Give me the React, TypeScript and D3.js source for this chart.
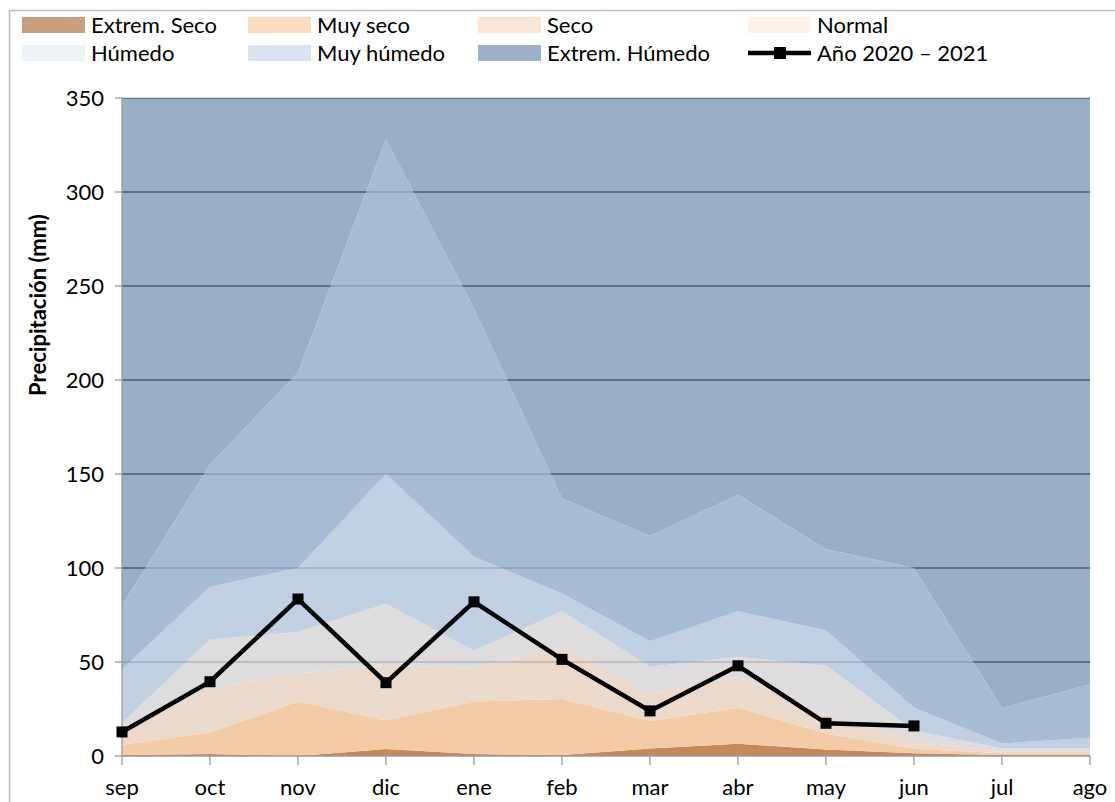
import React from "react";
import * as d3 from "d3";

const width = 1115;
const height = 802;

const months = ["sep", "oct", "nov", "dic", "ene", "feb", "mar", "abr", "may", "jun", "jul", "ago"];

// upper limit of each class (mm)
const extremSeco = [0.5, 1, 0, 3.7, 1, 0.5, 4, 6.5, 3.5, 1.4, 0.5, 0.5];
const muySeco = [6, 12.5, 29, 19, 29, 30.3, 18.6, 25.7, 12, 3.9, 1.5, 1.5];
const seco = [13, 36, 44, 48, 47, 58, 33, 42, 22, 8, 2.3, 2.5];
const normal = [17.5, 62, 66, 81, 56, 77, 47.5, 52.8, 48, 13.5, 4, 4];
const humedo = [46, 90, 100, 150, 106, 86.5, 61, 77, 66.7, 25.7, 6.7, 9.7];
const muyHumedo = [80, 155, 204, 328, 238, 137, 117, 139, 110, 100, 25.5, 38];

// observed year
const anio = [12.8, 39.5, 83.5, 39, 82, 51.4, 24, 48, 17.4, 16];

const yTicks = [0, 50, 100, 150, 200, 250, 300, 350];

const x = d3.scalePoint<string>().domain(months).range([122, 1090]);
const y = d3.scaleLinear().domain([0, 350]).range([756, 98]);

const zeros = months.map(() => 0);
const tops = months.map(() => 350);

const bands = [
  { name: "Extrem. Seco", lo: zeros, hi: extremSeco, fill: "#c68a5a", legend: "#c9a07f" },
  { name: "Muy seco", lo: extremSeco, hi: muySeco, fill: "#f4cba7", legend: "#fbdcbf" },
  { name: "Seco", lo: muySeco, hi: seco, fill: "#ebd9cb", legend: "#fce5d3" },
  { name: "Normal", lo: seco, hi: normal, fill: "#dfdcdd", legend: "#fef2ea" },
  { name: "Húmedo", lo: normal, hi: humedo, fill: "#c2d0e3", legend: "#eef2f9" },
  { name: "Muy húmedo", lo: humedo, hi: muyHumedo, fill: "#a9bcd6", legend: "#dae3f0" },
  { name: "Extrem. Húmedo", lo: muyHumedo, hi: tops, fill: "#9aaec7", legend: "#9db0c9" },
];

const areaGen = d3
  .area<number>()
  .x((_, i) => x(months[i]) as number);

const bandPath = (lo: number[], hi: number[]) =>
  areaGen.y0((_, i) => y(lo[i])).y1((d) => y(d))(hi) || "";

const lineGen = d3
  .line<number>()
  .x((_, i) => x(months[i]) as number)
  .y((d) => y(d));

const font = "Lato, 'Open Sans', sans-serif";

const legendCols = [22, 248, 478, 748];
const legendRows = [25, 53];

export default function App() {
  const x0 = x.range()[0];
  const x1 = x.range()[1];
  const gridVals = yTicks.filter((t) => t > 0);
  const extremPath = bandPath(muyHumedo, tops);

  return (
    <svg width={width} height={height} style={{ display: "block", position: "absolute", left: 0, top: 0 }}>
      <rect width={width} height={height} fill="white" />
      <defs>
        <clipPath id="extremClip">
          <path d={extremPath} />
        </clipPath>
      </defs>

      {/* chart frame, only top and left edges fall inside the picture */}
      <rect x={9.5} y={10.5} width={1200} height={900} fill="none" stroke="#bdbdbd" strokeWidth={1.5} />

      {/* class bands */}
      {bands.map((b) => (
        <path key={b.name} d={bandPath(b.lo, b.hi)} fill={b.fill} />
      ))}

      {/* gridlines: faint everywhere, darker over Extrem. Húmedo */}
      {gridVals.map((t) => (
        <line key={"g" + t} x1={x0} x2={x1} y1={y(t)} y2={y(t)} stroke="#1f2f47" strokeOpacity={0.22} strokeWidth={1.3} />
      ))}
      <g clipPath="url(#extremClip)">
        {gridVals.map((t) => (
          <line key={"gd" + t} x1={x0} x2={x1} y1={y(t)} y2={y(t)} stroke="#1f2f47" strokeOpacity={0.5} strokeWidth={1.3} />
        ))}
      </g>

      {/* axes */}
      <line x1={x0} x2={x0} y1={y(350)} y2={y(0)} stroke="#9a9a9a" strokeWidth={1.3} />
      <line x1={x0} x2={x1} y1={y(0)} y2={y(0)} stroke="#9a9a9a" strokeWidth={1.3} />
      {yTicks.map((t) => (
        <g key={"yt" + t}>
          <line x1={x0 - 7} x2={x0} y1={y(t)} y2={y(t)} stroke="#9a9a9a" strokeWidth={1.3} />
          <text x={104} y={y(t)} dy="0.36em" textAnchor="end" fontFamily={font} fontSize={22} fill="#000">
            {t}
          </text>
        </g>
      ))}
      {months.map((m) => (
        <g key={"xt" + m}>
          <line x1={x(m)} x2={x(m)} y1={y(0)} y2={y(0) + 9} stroke="#9a9a9a" strokeWidth={1.3} />
          <text x={x(m)} y={795} textAnchor="middle" fontFamily={font} fontSize={22} fill="#000">
            {m}
          </text>
        </g>
      ))}

      <text
        transform="translate(46,305) rotate(-90)"
        textAnchor="middle"
        fontFamily={font}
        fontSize={22}
        fontWeight="bold"
      >
        Precipitación (mm)
      </text>

      {/* observed line */}
      <path d={lineGen(anio) || ""} fill="none" stroke="#000" strokeWidth={4.5} strokeLinejoin="miter" />
      {anio.map((v, i) => (
        <rect key={"m" + i} x={(x(months[i]) as number) - 5.5} y={y(v) - 5.5} width={11} height={11} fill="#000" />
      ))}

      {/* legend */}
      {bands.map((b, i) => {
        const col = legendCols[i % 4];
        const row = legendRows[Math.floor(i / 4)];
        return (
          <g key={"l" + b.name}>
            <rect x={col} y={row - 8} width={63} height={16} fill={b.legend} />
            <text x={col + 69} y={row} dy="0.36em" fontFamily={font} fontSize={22}>
              {b.name}
            </text>
          </g>
        );
      })}
      <g>
        <line x1={legendCols[3]} x2={legendCols[3] + 63} y1={legendRows[1]} y2={legendRows[1]} stroke="#000" strokeWidth={4.5} />
        <rect x={legendCols[3] + 26} y={legendRows[1] - 6} width={12} height={12} fill="#000" />
        <text x={legendCols[3] + 69} y={legendRows[1]} dy="0.36em" fontFamily={font} fontSize={22}>
          Año 2020 – 2021
        </text>
      </g>
    </svg>
  );
}
